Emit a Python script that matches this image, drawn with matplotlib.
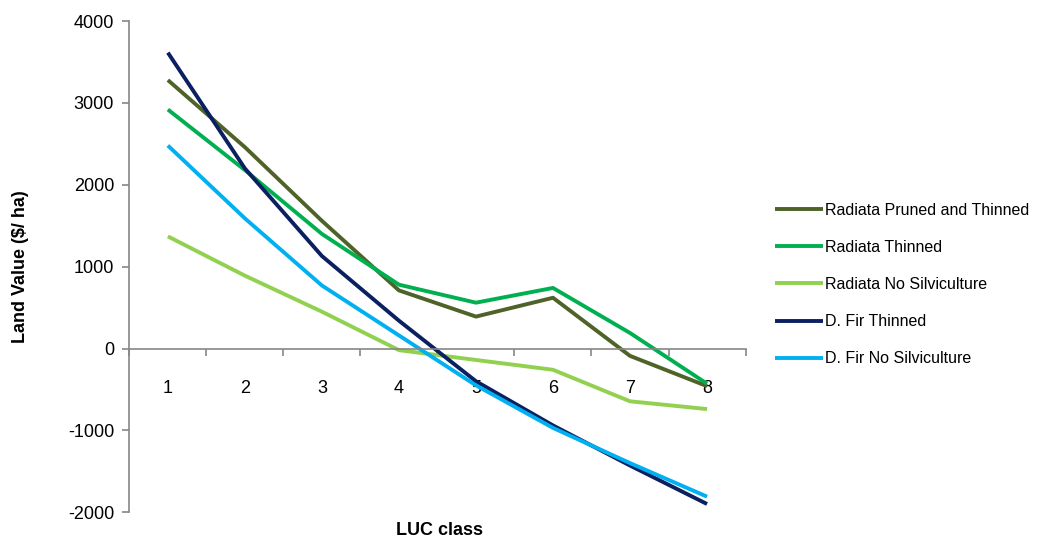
import matplotlib
matplotlib.use("Agg")
import matplotlib.pyplot as plt
from matplotlib.ticker import FixedLocator, NullFormatter

plt.rcParams["font.family"] = ["Liberation Sans", "DejaVu Sans"]
plt.rcParams["axes.unicode_minus"] = False

# Land value by LUC class for each forestry regime
luc_classes = [1, 2, 3, 4, 5, 6, 7, 8]
radiata_pruned_thinned = [3280, 2460, 1560, 710, 390, 620, -90, -460]
radiata_thinned = [2920, 2180, 1400, 780, 560, 740, 190, -430]
radiata_no_silv = [1370, 890, 450, -20, -140, -260, -645, -740]
dfir_thinned = [3615, 2200, 1130, 340, -400, -940, -1430, -1900]
dfir_no_silv = [2480, 1590, 770, 160, -450, -970, -1400, -1810]

series = [
    ("Radiata Pruned and Thinned", radiata_pruned_thinned, "#4F6228"),
    ("Radiata Thinned", radiata_thinned, "#00B050"),
    ("Radiata No Silviculture", radiata_no_silv, "#92D050"),
    ("D. Fir Thinned", dfir_thinned, "#0A2060"),
    ("D. Fir No Silviculture", dfir_no_silv, "#00B0F0"),
]

fig = plt.figure(figsize=(10.56, 5.42), dpi=100)
ax = fig.add_axes([0.1225, 0.055, 0.5835, 0.906])

for label, values, color in series:
    ax.plot(luc_classes, values, color=color, linewidth=2.8, label=label,
            solid_capstyle="butt")

ax.set_xlim(0.5, 8.5)
ax.set_ylim(-2000, 4000)
ax.set_yticks(range(-2000, 4001, 1000))

# category axis crosses at zero; tick marks sit between categories
axis_grey = "#868686"
ax.spines["bottom"].set_position(("data", 0))
ax.spines["top"].set_visible(False)
ax.spines["right"].set_visible(False)
for side in ("left", "bottom"):
    ax.spines[side].set_color(axis_grey)
    ax.spines[side].set_linewidth(1.2)

ax.xaxis.set_major_locator(FixedLocator([x + 0.5 for x in [0] + luc_classes]))
ax.xaxis.set_major_formatter(NullFormatter())
ax.xaxis.set_minor_locator(FixedLocator(luc_classes))
ax.set_xticklabels([str(c) for c in luc_classes], minor=True)
ax.tick_params(axis="x", which="major", direction="out", length=5,
               width=1.2, color=axis_grey)
ax.tick_params(axis="x", which="minor", length=0, pad=23, labelsize=13)
ax.tick_params(axis="y", direction="out", length=5, width=1.2,
               color=axis_grey, labelsize=13, pad=6)

ax.set_ylabel("Land Value ($/ ha)", fontsize=13, fontweight="bold", labelpad=28)
fig.text(0.4165, 0.022, "LUC class", fontsize=13, fontweight="bold",
         ha="center", va="center")

ax.legend(loc="center left", bbox_to_anchor=(0.72, 0.475),
          bbox_transform=fig.transFigure, frameon=False, fontsize=11.5,
          handlelength=3.0, handletextpad=0.15, labelspacing=1.38)

fig.savefig("out.png", dpi=100)
